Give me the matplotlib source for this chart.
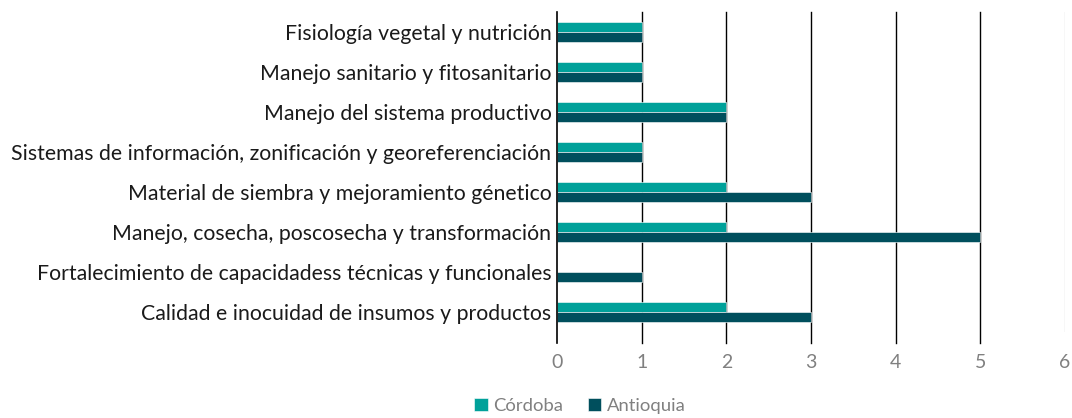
import matplotlib.pyplot as plt
import numpy as np

# datos (de arriba hacia abajo)
categorias = [
    "Fisiología vegetal y nutrición",
    "Manejo sanitario y fitosanitario",
    "Manejo del sistema productivo",
    "Sistemas de información, zonificación y georeferenciación",
    "Material de siembra y mejoramiento génetico",
    "Manejo, cosecha, poscosecha y transformación",
    "Fortalecimiento de capacidadess técnicas y funcionales",
    "Calidad e inocuidad de insumos y productos",
]
cordoba = [1, 1, 2, 1, 2, 2, 0, 2]
antioquia = [1, 1, 2, 1, 3, 5, 1, 3]

c_cordoba = "#00A19A"
c_antioquia = "#004F5D"

plt.rcParams['font.family'] = ['Lato', 'DejaVu Sans']

fig = plt.figure(figsize=(10.72, 4.18), dpi=100)
ax = fig.add_axes([557/1072, 1 - 332/418, (1065 - 557)/1072, (332 - 12)/418])

y = np.arange(len(categorias))
h = 0.25
ax.barh(y - h/2, cordoba, height=h, color=c_cordoba, edgecolor="white", linewidth=0.4, label="Córdoba", zorder=2)
ax.barh(y + h/2, antioquia, height=h, color=c_antioquia, edgecolor="white", linewidth=0.4, label="Antioquia", zorder=2)

ax.set_ylim(len(categorias) - 0.5, -0.5)
ax.set_xlim(0, 6)
ax.set_yticks(y)
ax.set_yticklabels(categorias, fontsize=15.3, color="#1a1a1a")
ax.set_xticks(range(7))
ax.tick_params(axis="x", colors="#808080", labelsize=14, length=0, pad=16)
ax.tick_params(axis="y", length=0, pad=4)

for s in ax.spines.values():
    s.set_visible(False)

# líneas verticales
ax.axvline(0, color="black", lw=1.2, ymin=-0.035, clip_on=False, zorder=3)
for xv in range(1, 6):
    ax.axvline(xv, color="black", lw=1.0, ymin=-0.035, clip_on=False, zorder=1)
ax.axvline(6, color="#d9d9d9", lw=1.0, zorder=1)

fig.legend(loc="center", bbox_to_anchor=(580/1072, 1 - 406/418), ncol=2, frameon=False,
           fontsize=13.3, handlelength=0.75, handleheight=0.75, handletextpad=0.3,
           columnspacing=1.3, labelcolor="#808080")

fig.savefig("out.png", dpi=100)
